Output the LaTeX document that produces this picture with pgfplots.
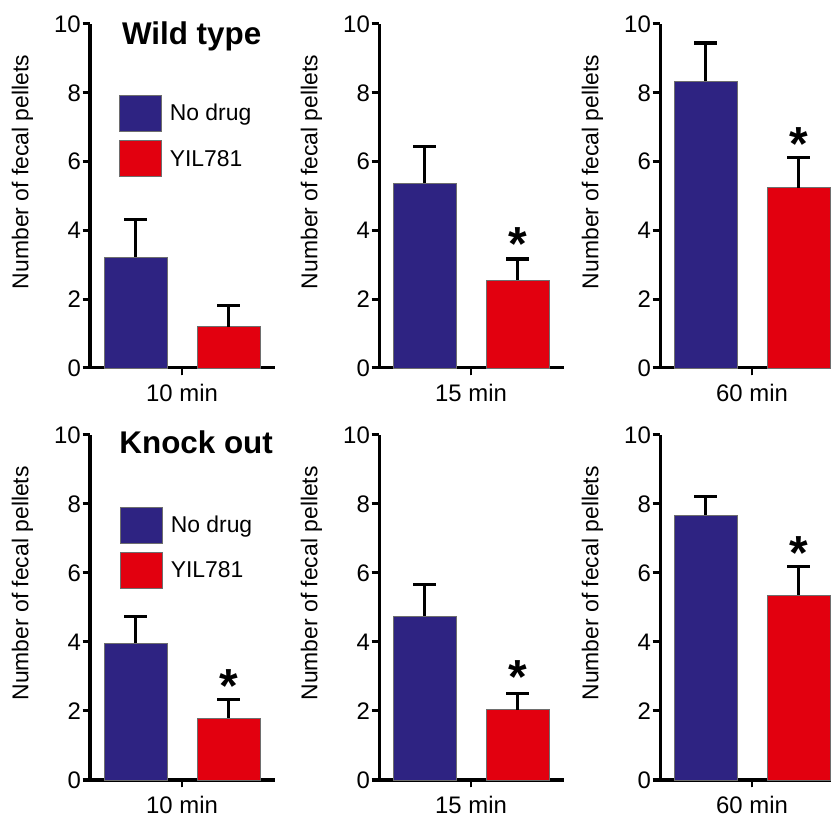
\documentclass[border=0pt]{standalone}
\usepackage{fontspec}
\setmainfont{Liberation Sans}
\usepackage{pgfplots}
\pgfplotsset{compat=1.18}
\definecolor{nodrug}{HTML}{2E2382}
\definecolor{yil}{HTML}{E2000F}
\definecolor{edge}{HTML}{6E6E6E}

\pgfplotsset{
  panel/.style={
    scale only axis, width=185bp, height=344bp,
    xmin=0.51, xmax=2.50, ymin=0, ymax=10,
    axis x line*=bottom, axis y line*=left,
    axis line style={line width=3bp, black, -},
    tick align=outside, major tick length=7.5bp,
    ytick style={line width=3bp, black},
    xtick style={line width=2.6bp, black},
    ytick={0,2,...,10}, xtick={1.5},
    extra x ticks={1.5}, extra x tick labels={},
    extra x tick style={tick align=outside, major tick length=7.5bp, tick style={line width=2.6bp, black}},
    /pgf/number format/assume math mode=true,
    tick label style={font=\fontsize{24}{28}\selectfont},
    yticklabel style={inner sep=1.5bp},
    xticklabel style={inner sep=2bp, yshift=-6bp},
    ylabel={Number of fecal pellets},
    ylabel style={font=\fontsize{23}{27}\selectfont, at={(axis description cs:-0.365,0.57)}, anchor=center},
    clip=false,
    legend style={at={(axis description cs:0.158,0.794)}, anchor=north west,
      draw=none, fill=none, inner sep=0pt, outer sep=0pt,
      row sep=9bp, column sep=8bp,
      font=\fontsize{23}{27}\selectfont,
      nodes={inner sep=0pt, anchor=west}},
    legend cell align=left,
  },
  errs/.style={
    error bars/y dir=plus, error bars/y explicit,
    error bars/error bar style={line width=3.2bp, black},
    error bars/error mark options={rotate=90, mark size=11.5bp, line width=3.2bp, black}},
  bluebar/.style={ybar, bar width=63bp, bar shift=0pt, fill=nodrug, draw=edge, line width=0.6bp, errs},
  redbar/.style={ybar, bar width=63bp, bar shift=0pt, fill=yil, draw=edge, line width=0.6bp, errs},
  bluelegend/.style={legend image code/.code={\draw[fill=nodrug,draw=edge,line width=0.6bp] (0bp,-18bp) rectangle (42bp,18bp);}},
  redlegend/.style={legend image code/.code={\draw[fill=yil,draw=edge,line width=0.6bp] (0bp,-18bp) rectangle (42bp,18bp);}},
}
\newcommand{\sigstar}[1]{\node[anchor=base, yshift=-26bp, font=\bfseries\fontsize{48}{54}\selectfont] at (axis cs:2,#1) {*};}

\begin{document}
\begin{tikzpicture}
\path[use as bounding box] (0,0) rectangle (831bp,819bp);

% ---------- Wild type ----------
\begin{axis}[panel, at={(90bp,451bp)}, anchor=south west, xticklabels={10 min}]
  \addplot[bluebar, bluelegend] coordinates {(1,3.23) +- (0,1.09)};
  \addplot[redbar, redlegend] coordinates {(2,1.20) +- (0,0.62)};
  \legend{No drug, YIL781}
  \node[anchor=base west, inner sep=0pt, font=\bfseries\fontsize{31.5}{36}\selectfont] at (axis description cs:0.172,0.94) {Wild type};
\end{axis}

\begin{axis}[panel, at={(379bp,451bp)}, anchor=south west, xticklabels={15 min}]
  \addplot[bluebar] coordinates {(1,5.37) +- (0,1.07)};
  \addplot[redbar] coordinates {(2,2.56) +- (0,0.61)};
  \sigstar{3.87}
\end{axis}

\begin{axis}[panel, at={(660bp,451bp)}, anchor=south west, xticklabels={60 min}]
  \addplot[bluebar] coordinates {(1,8.33) +- (0,1.12)};
  \addplot[redbar] coordinates {(2,5.24) +- (0,0.88)};
  \sigstar{6.80}
\end{axis}

% ---------- Knock out ----------
\begin{axis}[panel, height=345bp, at={(90bp,39bp)}, anchor=south west, xticklabels={10 min},
  legend style={at={(axis description cs:0.163,0.792)}}]
  \addplot[bluebar, bluelegend] coordinates {(1,3.97) +- (0,0.76)};
  \addplot[redbar, redlegend] coordinates {(2,1.80) +- (0,0.53)};
  \legend{No drug, YIL781}
  \node[anchor=base west, inner sep=0pt, font=\bfseries\fontsize{31.5}{36}\selectfont] at (axis description cs:0.158,0.946) {Knock out};
  \sigstar{3.00}
\end{axis}

\begin{axis}[panel, height=345bp, at={(379bp,39bp)}, anchor=south west, xticklabels={15 min}]
  \addplot[bluebar] coordinates {(1,4.75) +- (0,0.92)};
  \addplot[redbar] coordinates {(2,2.04) +- (0,0.47)};
  \sigstar{3.25}
\end{axis}

\begin{axis}[panel, height=345bp, at={(660bp,39bp)}, anchor=south west, xticklabels={60 min}]
  \addplot[bluebar] coordinates {(1,7.68) +- (0,0.53)};
  \addplot[redbar] coordinates {(2,5.36) +- (0,0.82)};
  \sigstar{6.86}
\end{axis}
\end{tikzpicture}
\end{document}
